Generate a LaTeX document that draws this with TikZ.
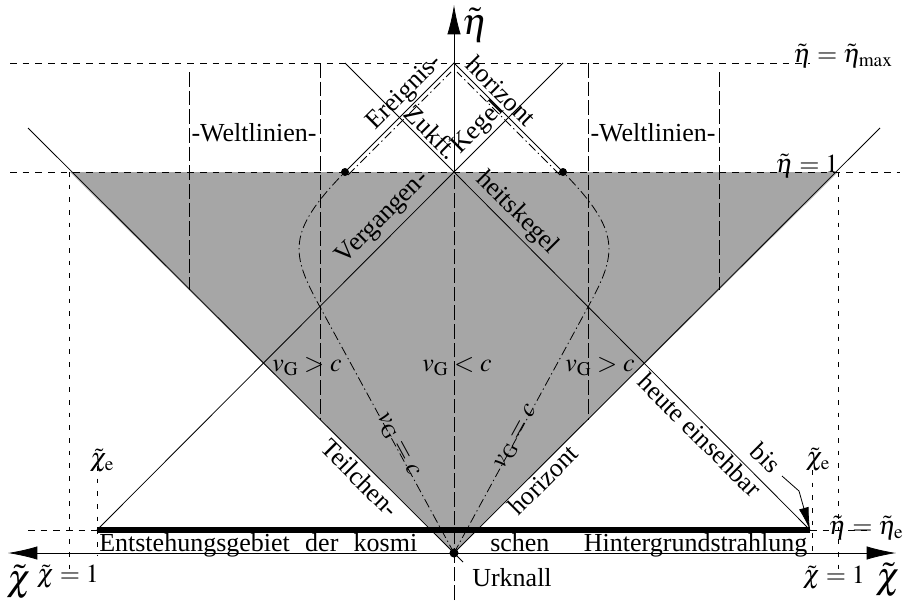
\documentclass[tikz,border=0pt]{standalone}
\usepackage{mathptmx}
\usepackage[no-math]{fontspec}
\setmainfont{Liberation Serif}
\usetikzlibrary{arrows.meta}
\begin{document}
\begin{tikzpicture}[x=0.75pt,y=-0.75pt,
  thinl/.style={line width=0.6pt},
  lbl/.style={font=\fontsize{19.5}{23}\selectfont, inner sep=0pt},
  big/.style={font=\fontsize{28}{32}\selectfont, inner sep=0pt},
  hdash/.style={line width=0.5pt, dash pattern=on 5pt off 4.5pt},
  wline/.style={line width=0.6pt, dash pattern=on 11pt off 3pt},
  ddot/.style={line width=0.6pt, dash pattern=on 7pt off 2.5pt on 1pt off 2.5pt},
  vdot/.style={line width=0.6pt, dash pattern=on 3.5pt off 6pt},
  axarrow/.style={line width=0.6pt},
  thickline/.style={line width=3.8pt}
]
\useasboundingbox (0,0) rectangle (904,607);
% key points
\coordinate (O) at (454,553);
\coordinate (A) at (454,172);
\coordinate (M) at (454,63);
\coordinate (EL) at (345,172);
\coordinate (ER) at (563,172);
\coordinate (FL) at (345,63);
\coordinate (FR) at (563,63);
\coordinate (PL) at (97,530);
\coordinate (PR) at (810,530);
\coordinate (CL) at (70,172);
\coordinate (CR) at (838,172);
\coordinate (HL) at (28,128);
\coordinate (HR) at (880,128);
\coordinate (HLe) at (463,562);
% shading
\fill[black!35] (CL) -- (CR) -- (O) -- cycle;
% horizontal dashed levels
\draw[hdash] (10,63) -- (810,63);
\draw[hdash] (10,172) -- (900,172);
\draw[hdash] (28,530) -- (PL);
\draw[hdash] (PR) -- (872,530);
% vertical dotted
\draw[vdot] (69,172) -- (69,572);
\draw[vdot] (838,172) -- (838,572);
\draw[vdot] (97,466) -- (97,556);
\draw[vdot] (812,470) -- (812,558);
% world lines (dashed verticals)
\draw[wline] (189,72) -- (189,290);
\draw[wline] (320,63) -- (320,420);
\draw[wline] (588,63) -- (588,420);
\draw[wline] (719,72) -- (719,290);
% axes
\draw[wline] (454,600) -- (A);
\draw[axarrow,-{Latex[length=22pt,width=10pt]}] (A) -- (454,5);
\draw[axarrow,{Latex[length=22pt,width=10pt]}-{Latex[length=22pt,width=10pt]}] (8,553) -- (896,553);
% light lines
\draw[thinl] (HL) -- (HLe);
\draw[thinl] (O) -- (HR);
\draw[thinl] (PL) -- (A) -- (PR);
\draw[thinl] (EL) -- (M) -- (ER);
\draw[thinl] (FL) -- (A) -- (FR);
\draw[thickline] (PL) -- (PR);
% dash-dot world lines
\draw[ddot] (O) -- (320,307) .. controls (291,254) and (286,232) .. (EL);
\draw[ddot] (348,175) -- (451,72);
\draw[ddot] (O) -- (588,307) .. controls (617,254) and (622,232) .. (ER);
\draw[ddot] (560,175) -- (457,72);
% dots
\fill (EL) circle (3pt);
\fill (ER) circle (3pt);
\fill (O) circle (3.4pt);
% bis arrow
\draw[thinl,-{Latex[length=17pt,width=7.5pt]}] (782,476) -- (799,491) -- (PR);
% labels along lines
\node[lbl,rotate=45] (t1) at (405,93) {Ereignis-};
\node[lbl,rotate=-45] (t2) at (501,91) {horizont};
\node[lbl,rotate=-45] (t3) at (432,132) {Zukft.};
\node[lbl,rotate=45] (t4) at (478,128) {Kegel};
\node[lbl,rotate=45] (t5) at (383,218) {Vergangen-};
\node[lbl,rotate=-45] (t6) at (517,213) {heitskegel};
\node[lbl,rotate=-45] (t7) at (360,478) {Teilchen-};
\node[lbl,rotate=45] (t8) at (543,480) {horizont};
\node[lbl,rotate=-45] (t9) at (700,435) {heute einsehbar};
\node[lbl,rotate=-45] (t10) at (766,458) {bis};
\node[lbl,rotate=-61.4] (t11) at (397,445) {$v_{\mathrm G}=c$};
\node[lbl,rotate=61.4] (t12) at (517,437) {$v_{\mathrm G}=c$};
% region labels
\node[lbl] (w1) at (254,133) {-Weltlinien-};
\node[lbl] (w2) at (653,133) {-Weltlinien-};
\node[lbl] (v1) at (307,367) {$v_{\mathrm G}>c$};
\node[lbl] (v2) at (457,367) {$v_{\mathrm G}<c$};
\node[lbl] (v3) at (600,367) {$v_{\mathrm G}>c$};
% bottom text
\node[lbl,anchor=base west] (b1) at (99,551) {\makebox[238.5pt][s]{Entstehungsgebiet der kosmi}};
\node[lbl,anchor=base west] (b2) at (490,551) {\makebox[237.75pt][s]{schen Hintergrundstrahlung}};
\node[lbl] (u) at (512,578) {Urknall};
% axis labels
\node[big] (eta) at (475,25) {$\tilde\eta$};
\node[big] (chil) at (19,582) {$\tilde\chi$};
\node[big] (chir) at (888,580) {$\tilde\chi$};
\node[lbl] (c1l) at (68,577) {$\tilde\chi=1$};
\node[lbl] (c1r) at (834,578) {$\tilde\chi=1$};
\node[lbl] (cel) at (102,461) {$\tilde\chi_{\mathrm e}$};
\node[lbl] (cer) at (818,460) {$\tilde\chi_{\mathrm e}$};
\node[lbl] (emax) at (843,56) {$\tilde\eta=\tilde\eta_{\mathrm{max}}$};
\node[lbl] (e1) at (807,166) {$\tilde\eta=1$};
\node[lbl] (ee) at (866,528) {$\tilde\eta=\tilde\eta_{\mathrm e}$};
\end{tikzpicture}
\end{document}
